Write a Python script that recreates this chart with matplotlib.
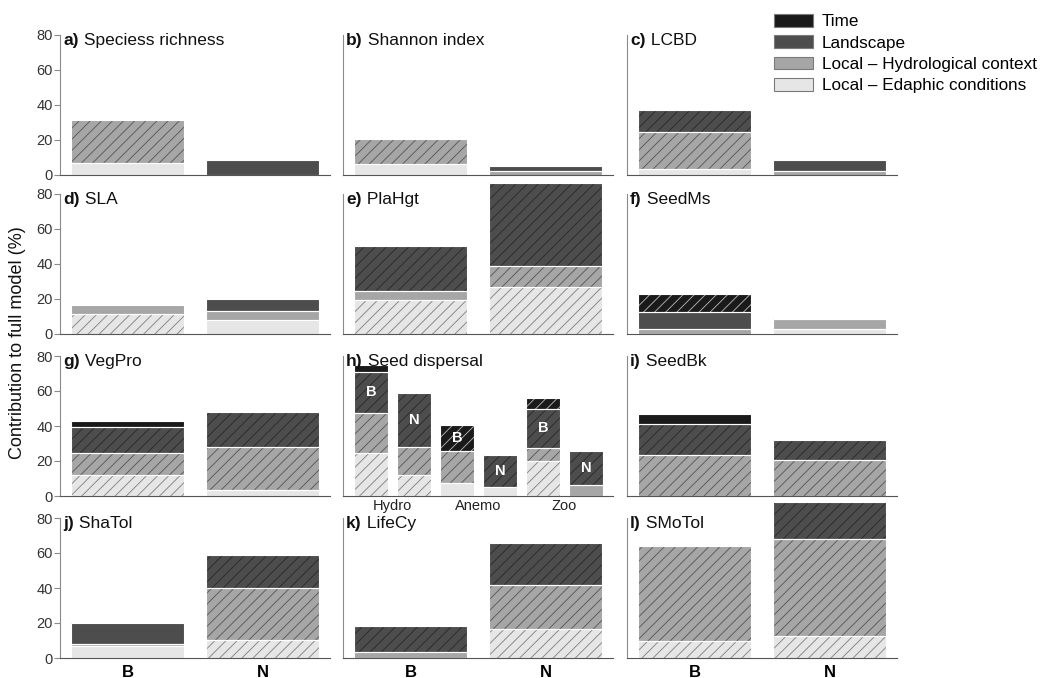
import numpy as np
import matplotlib
matplotlib.use("Agg")
import matplotlib.pyplot as plt
from matplotlib.patches import Patch

plt.rcParams['font.family'] = ['Liberation Sans', 'DejaVu Sans']
plt.rcParams['hatch.linewidth'] = 0.65

# segment heights (% of full model) per panel, bars B and N
letters = ['a)', 'b)', 'c)', 'd)', 'e)', 'f)', 'g)', 'i)', 'j)', 'k)', 'l)']
titles = ['Speciess richness', 'Shannon index', 'LCBD', 'SLA', 'PlaHgt', 'SeedMs',
          'VegPro', 'SeedBk', 'ShaTol', 'LifeCy', 'SMoTol']
edaphic = [[7.0, 0.0], [6.3, 0.0], [3.2, 0.0], [11.5, 8.1], [19.6, 26.9], [0.0, 2.7],
           [12.0, 3.4], [0.0, 0.0], [7.0, 10.3], [0.0, 16.4], [9.9, 12.6]]
hydro = [[24.4, 0.0], [14.1, 2.3], [21.5, 2.5], [5.2, 5.3], [4.8, 12.2], [2.7, 5.7],
         [12.8, 24.4], [23.4, 20.6], [1.0, 29.9], [3.6, 25.3], [54.3, 55.2]]
landscape = [[0.0, 8.6], [0.0, 3.0], [12.4, 6.1], [0.0, 6.6], [25.9, 47.2], [10.1, 0.8],
             [14.8, 20.4], [17.6, 11.4], [11.8, 18.7], [14.7, 23.8], [0.0, 21.5]]
time = [[0.0, 0.0], [0.0, 0.0], [0.0, 0.0], [0.0, 0.0], [0.0, 0.0], [10.2, 0.0],
        [3.4, 0.0], [5.9, 0.0], [0.0, 0.0], [0.0, 0.0], [0.0, 0.0]]

# 1 = hatched segment
edaphic_hatch = [[0, 0], [0, 0], [0, 0], [1, 0], [1, 1], [0, 0],
                 [1, 0], [0, 0], [0, 1], [0, 1], [1, 1]]
hydro_hatch = [[1, 0], [1, 0], [1, 0], [0, 0], [0, 1], [0, 0],
               [1, 1], [1, 1], [0, 1], [0, 1], [1, 1]]
landscape_hatch = [[0, 0], [0, 0], [1, 0], [0, 0], [1, 1], [0, 0],
                   [1, 1], [1, 1], [0, 1], [1, 1], [0, 1]]
time_hatch = [[0, 0], [0, 0], [0, 0], [0, 0], [0, 0], [1, 0],
              [0, 0], [0, 0], [0, 0], [0, 0], [0, 0]]

# panel h: seed dispersal groups
disp_groups = ['Hydro', 'Anemo', 'Zoo']
disp_bars = ['B', 'N', 'B', 'N', 'B', 'N']
disp_edaphic = [24.4, 12.0, 7.6, 5.3, 20.0, 0.0]
disp_hydro = [23.2, 15.8, 18.3, 0.0, 7.6, 6.1]
disp_landscape = [23.4, 31.2, 0.0, 18.1, 22.1, 19.6]
disp_time = [3.9, 0.0, 14.7, 0.0, 6.3, 0.0]
disp_edaphic_hatch = [1, 1, 0, 0, 1, 0]
disp_hydro_hatch = [1, 1, 1, 0, 1, 0]
disp_landscape_hatch = [1, 1, 0, 1, 1, 1]
disp_time_hatch = [0, 0, 1, 0, 1, 0]
disp_label_layer = [2, 2, 3, 2, 2, 2]

layer_names = ['Local \u2013 Edaphic conditions', 'Local \u2013 Hydrological context',
               'Landscape', 'Time']
layer_colors = ['#e6e6e6', '#a6a6a6', '#4d4d4d', '#1a1a1a']
hatch_colors = ['#858585', '#5a5a5a', '#2b2b2b', '#b0b0b0']

W, H = 1040, 678
fig = plt.figure(figsize=(W / 100, H / 100), dpi=100)


def px_axes(left, top, width=270, height=140):
    return fig.add_axes([left / W, 1 - (top + height) / H, width / W, height / H])


def draw_stack(ax, x, layers, hatches, width):
    x = np.asarray(x, dtype=float)
    bottom = np.zeros(len(x))
    tops = []
    for k, (h, hf) in enumerate(zip(layers, hatches)):
        h = np.asarray(h, dtype=float)
        for i in range(len(x)):
            if h[i] <= 0:
                continue
            seg = dict(bottom=bottom[i], clip_on=False)
            ax.bar(x[i], h[i], width, color=layer_colors[k], linewidth=0,
                   zorder=2, **seg)
            if hf[i]:
                ax.bar(x[i], h[i], width, color='none', edgecolor=hatch_colors[k],
                       linewidth=0, hatch='///', zorder=2.5, **seg)
            # thin white outline separating the segments
            ax.bar(x[i], h[i], width, color='none', edgecolor='white',
                   linewidth=0.8, zorder=3, **seg)
        tops.append(bottom.copy())
        bottom = bottom + h
    tops.append(bottom)
    return tops


def style_axes(ax, show_y):
    ax.set_ylim(0, 80)
    for s in ['top', 'right']:
        ax.spines[s].set_visible(False)
    ax.spines['left'].set_color('#8a8a8a')
    ax.spines['bottom'].set_color('#555555')
    ax.spines['left'].set_bounds(0, 80)
    ax.spines['bottom'].set_zorder(4)
    ax.set_yticks([0, 20, 40, 60, 80])
    if show_y:
        ax.tick_params(axis='y', length=4, width=0.8, color='#8a8a8a',
                       labelsize=10.5, labelcolor='#333333', pad=1)
    else:
        ax.tick_params(axis='y', length=0, labelleft=False)
    ax.tick_params(axis='x', length=0)
    ax.set_xticks([])


def panel_title(ax, letter, title):
    t = ax.text(0.012, 1.015, letter, transform=ax.transAxes, fontsize=12.5,
                fontweight='bold', va='top', ha='left', color='#111111')
    ax.annotate(' ' + title, xy=(1, 0), xycoords=t, va='bottom', ha='left',
                fontsize=12.5, color='#111111')


col_left = [60, 343, 627]
row_top = [35, 194, 356, 518]
positions = [(0, 0), (0, 1), (0, 2), (1, 0), (1, 1), (1, 2),
             (2, 0), (2, 2), (3, 0), (3, 1), (3, 2)]

for p, (r, c) in enumerate(positions):
    ax = px_axes(col_left[c], row_top[r])
    style_axes(ax, c == 0)
    ax.set_xlim(-0.5, 1.5)
    draw_stack(ax, [0, 1],
               [edaphic[p], hydro[p], landscape[p], time[p]],
               [edaphic_hatch[p], hydro_hatch[p], landscape_hatch[p], time_hatch[p]],
               0.84)
    panel_title(ax, letters[p], titles[p])
    if r == 3:
        ax.set_xticks([0, 1])
        ax.set_xticklabels(['B', 'N'], fontsize=12, fontweight='bold')
        ax.tick_params(axis='x', length=0, pad=5)

# panel h
ax = px_axes(col_left[1], row_top[2])
style_axes(ax, False)
ax.set_xlim(-0.65, 5.63)
xs = np.arange(len(disp_bars))
tops = draw_stack(ax, xs,
                  [disp_edaphic, disp_hydro, disp_landscape, disp_time],
                  [disp_edaphic_hatch, disp_hydro_hatch, disp_landscape_hatch,
                   disp_time_hatch],
                  0.81)
for i, lab in enumerate(disp_bars):
    k = disp_label_layer[i]
    y = (tops[k][i] + tops[k + 1][i]) / 2
    ax.text(xs[i], y, lab, ha='center', va='center', color='white',
            fontsize=10.5, fontweight='bold', zorder=4)
ax.set_xticks([0.5, 2.5, 4.5])
ax.set_xticklabels(disp_groups, fontsize=10.5, color='#222222')
ax.tick_params(axis='x', length=0, pad=2.5)
panel_title(ax, 'h)', 'Seed dispersal')

fig.text(18 / W, 1 - 343 / H, 'Contribution to full model (%)', rotation=90,
         ha='center', va='center', fontsize=13, color='#111111')

handles = [Patch(facecolor=layer_colors[k], edgecolor='#7a7a7a', linewidth=0.8,
                 label=layer_names[k]) for k in [3, 2, 1, 0]]
fig.legend(handles=handles, loc='upper left', bbox_to_anchor=(774 / W, 1 - 14 / H),
           frameon=False, fontsize=12.3, handlelength=2.3, handleheight=0.75,
           handletextpad=0.5, labelspacing=0.36, borderaxespad=0, borderpad=0)

fig.savefig('out.png', dpi=100)
